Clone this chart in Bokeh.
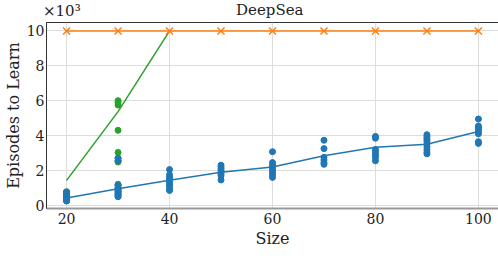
from bokeh.plotting import figure
from bokeh.layouts import column
from bokeh.models import Range1d, Legend, LegendItem, Div, CustomJSTickFormatter, FixedTicker
from bokeh.embed import file_html
from bokeh.resources import INLINE

FONT = "DejaVu Serif"

# ---- data ----
sizes = [20, 30, 40, 50, 60, 70, 80, 90, 100]

epinet_sizes = [20, 30, 40]
epinet_mean = [1430, 5370, 10000]
epinet_pts_x = [20, 20, 20, 30, 30, 30, 30, 30, 30, 30]
epinet_pts_y = [780, 700, 600, 6000, 5900, 5750, 4300, 3030, 2480, 1200]

hypermodel_mean = [10000] * 9

hyperagent_mean = [420, 950, 1430, 1890, 2190, 2840, 3330, 3500, 4230]
hyperagent_pts = {
    20: [750, 650, 550, 470, 400, 350, 300, 250],
    30: [2700, 2550, 1150, 1000, 900, 800, 700, 600, 500],
    40: [2050, 1750, 1600, 1500, 1350, 1200, 1100, 950, 850],
    50: [2300, 2200, 2100, 2000, 1900, 1800, 1700, 1450],
    60: [3070, 2450, 2300, 2200, 2050, 1900, 1750, 1600],
    70: [3730, 3250, 2750, 2600, 2450, 2350],
    80: [3950, 3850, 3200, 3050, 2900, 2750, 2550],
    90: [4050, 3950, 3850, 3750, 3650, 3500, 3350, 3200, 3050, 2950],
    100: [4950, 4550, 4450, 4350, 4200, 4100, 3650, 3550],
}
series_names = ["epinet", "HyperModel", "HyperAgent"]
x_ticks = [20, 40, 60, 80, 100]
y_ticks = [0, 2000, 4000, 6000, 8000, 10000]
title_text = "DeepSea"
offset_text = "×10³"

GREEN = "#2ca02c"
ORANGE = "#ff7f0e"
BLUE = "#1f77b4"
TXT = "#222222"

# ---- header (title and axis offset label) ----
header = Div(
    text=(f'<div style="position:relative;width:498px;height:21px;font-family:\'{FONT}\';color:{TXT};">'
          f'<span style="position:absolute;left:43px;top:1px;font-size:15px;">{offset_text}</span>'
          f'<span style="position:absolute;left:236px;top:0px;font-size:15px;">{title_text}</span>'
          f'</div>'),
    width=498, height=21, margin=(0, 0, 0, 0))

# ---- main plot ----
p = figure(frame_width=452, frame_height=186, output_backend="svg", toolbar_location=None,
           x_range=Range1d(16.1, 103.9), y_range=Range1d(-185, 10485),
           min_border_left=43, min_border_right=3, min_border_top=1, min_border_bottom=0)
p.title = None
p.outline_line_color = "#333333"
p.outline_line_width = 1

p.xgrid.grid_line_color = "#dddddd"
p.ygrid.grid_line_color = "#dddddd"
p.xaxis.ticker = FixedTicker(ticks=x_ticks)
p.yaxis.ticker = FixedTicker(ticks=y_ticks)
p.yaxis.formatter = CustomJSTickFormatter(code="return (tick/1000).toFixed(0);")

for ax in (p.xaxis, p.yaxis):
    ax.major_label_text_font = FONT
    ax.major_label_text_font_size = "14px"
    ax.major_label_text_color = TXT
    ax.axis_label_text_font = FONT
    ax.axis_label_text_font_size = "16px"
    ax.axis_label_text_font_style = "normal"
    ax.axis_label_text_color = TXT
    ax.minor_tick_line_color = None
    ax.major_tick_line_color = None
    ax.major_tick_in = 0
    ax.major_tick_out = 0

p.xaxis.axis_label = "Size"
p.yaxis.axis_label = "Episodes to Learn"
p.xaxis.axis_line_color = "#999999"
p.xaxis.axis_line_width = 2
p.yaxis.axis_line_color = "#333333"
p.xaxis.major_label_standoff = 4
p.xaxis.axis_label_standoff = 2
p.yaxis.major_label_standoff = 2
p.yaxis.axis_label_standoff = 1

for s in sizes:
    ys = hyperagent_pts[s]
    p.scatter([s] * len(ys), ys, size=6, color=BLUE, line_color=BLUE)
p.scatter(epinet_pts_x, epinet_pts_y, size=6, color=GREEN, line_color=GREEN)
for s in [20, 30]:
    ys = hyperagent_pts[s]
    p.scatter([s] * len(ys), ys, size=6, color=BLUE, line_color=BLUE)

r_ep = p.line(epinet_sizes, epinet_mean, color=GREEN, line_width=1.5)
r_hm = p.line(sizes, hypermodel_mean, color=ORANGE, line_width=1.5)
p.scatter(sizes, hypermodel_mean, marker="x", size=10, line_color=ORANGE, line_width=1.5)
r_ha = p.line(sizes, hyperagent_mean, color=BLUE, line_width=1.5)

legend = Legend(items=[LegendItem(label=n, renderers=[r]) for n, r in zip(series_names, [r_ep, r_hm, r_ha])],
                orientation="horizontal", location="top_center",
                label_text_font=FONT, label_text_font_size="11px",
                label_text_color=TXT,
                border_line_color="#cccccc", border_line_width=1,
                background_fill_color="white",
                glyph_width=28, glyph_height=12, spacing=27, padding=5,
                margin=3, label_standoff=10, label_height=12)
p.add_layout(legend, "below")

layout = column(header, p, spacing=0)
open("out.html", "w").write(file_html(layout, INLINE))
